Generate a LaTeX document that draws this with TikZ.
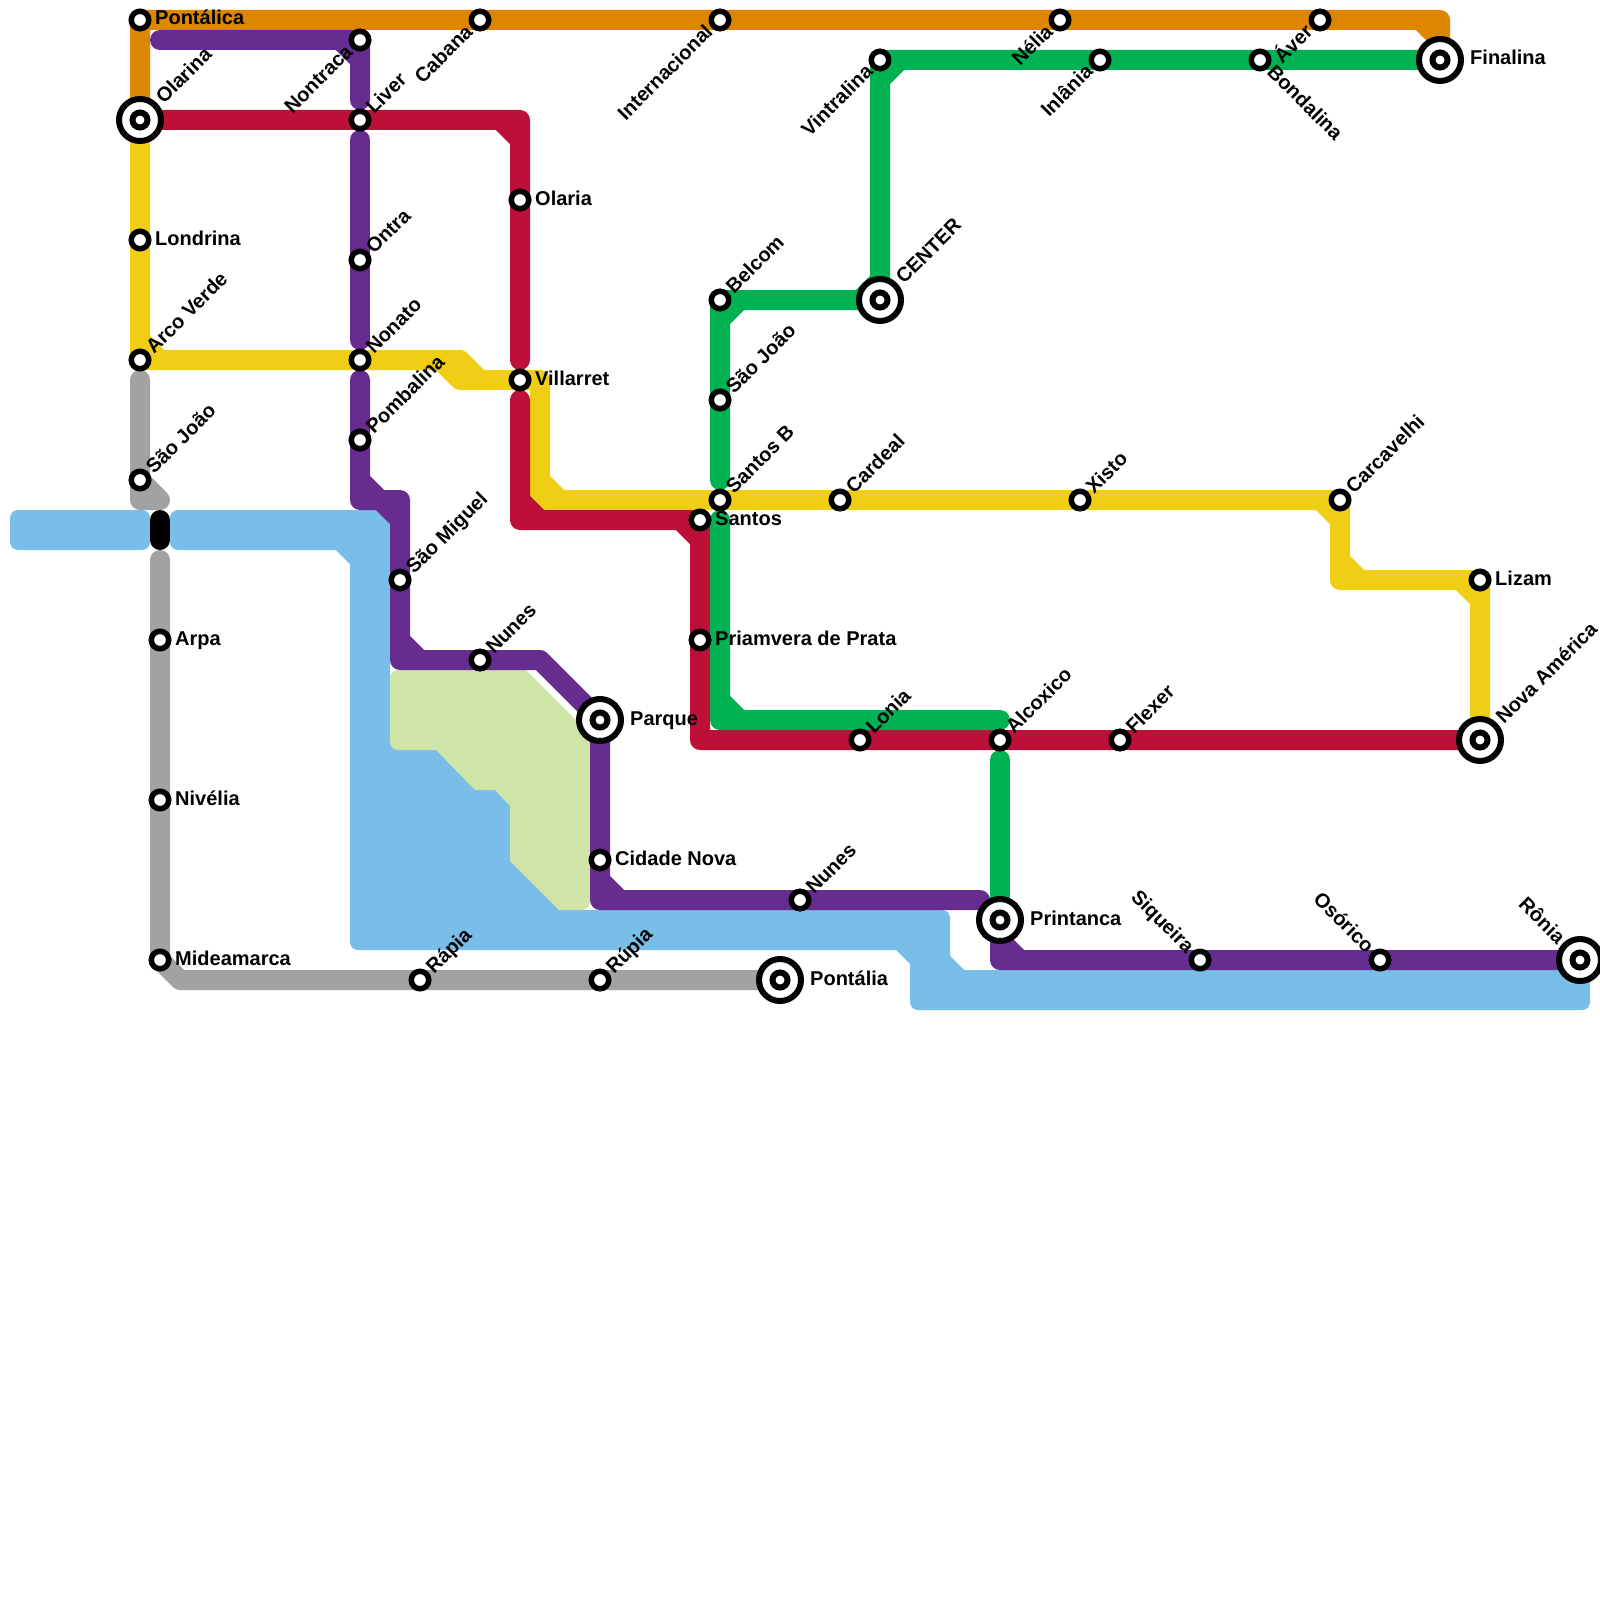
\documentclass[tikz,border=0pt]{standalone}
\usepackage{fontspec}
\setmainfont{Liberation Sans}
\usepackage{xcolor}
\definecolor{mtorange}{HTML}{DF8600}
\definecolor{mtpurple}{HTML}{662C90}
\definecolor{mtred}{HTML}{BD1038}
\definecolor{mtyellow}{HTML}{F0CE15}
\definecolor{mtgreen}{HTML}{00B251}
\definecolor{mtblue}{HTML}{79BDE9}
\definecolor{mtgray}{HTML}{A1A2A3}
\definecolor{mtlime}{HTML}{CFE4A7}
\usetikzlibrary{calc}
\pgfdeclarelayer{lines}
\pgfsetlayers{lines,main}
\tikzset{
  metro/.style={line width=20pt, line cap=round, line join=round},
  stn/.style={circle, draw=black, fill=white, line width=5.5pt, minimum size=17.5pt, inner sep=0pt},
  hub/.style={circle, draw=black, fill=white, line width=6pt, minimum size=42pt, inner sep=0pt},
  hubdot/.style={circle, draw=black, fill=white, line width=6pt, minimum size=15pt, inner sep=0pt},
  tag/.style={inner sep=0pt, font=\bfseries\fontsize{20}{24}\selectfont},
  tagE/.style={tag, anchor=base west, xshift=15pt, yshift=-5pt},
  tagEbig/.style={tag, anchor=base west, xshift=30pt, yshift=-5pt},
  tagNE/.style={tag, anchor=base west, xshift=14pt, yshift=5pt, rotate=45},
  tagNEbig/.style={tag, anchor=base west, xshift=24pt, yshift=15pt, rotate=45},
  tagSW/.style={tag, anchor=base east, xshift=-6pt, yshift=-13pt, rotate=45},
  tagSE/.style={tag, anchor=base west, xshift=6pt, yshift=-13pt, rotate=-45},
  tagNW/.style={tag, anchor=base east, xshift=-14pt, yshift=6pt, rotate=-45},
  tagNWbig/.style={tag, anchor=base east, xshift=-23pt, yshift=15pt, rotate=-45},
}

\begin{document}
\begin{tikzpicture}[x=1pt, y=-1pt]
  \useasboundingbox (0,0) rectangle (1600,1600);

  % --- Stations: top and left ---
  \node[stn] (pontalica) at (140,20) {};
  \node[tagE] (tPontalica) at (pontalica.center) {Pontálica};
  \node[hub] (olarina) at (140,120) {};
  \node[hubdot] (olarinaDot) at (olarina.center) {};
  \node[tagNEbig] (tOlarina) at (olarina.center) {Olarina};
  \node[stn] (londrina) at (140,240) {};
  \node[tagE] (tLondrina) at (londrina.center) {Londrina};
  \node[stn] (arcoverde) at (140,360) {};
  \node[tagNE] (tArcoverde) at (arcoverde.center) {Arco Verde};
  \node[stn] (saojoao) at (140,480) {};
  \node[tagNE] (tSaojoao) at (saojoao.center) {São João};
  \node[stn] (arpa) at (160,640) {};
  \node[tagE] (tArpa) at (arpa.center) {Arpa};
  \node[stn] (nivelia) at (160,800) {};
  \node[tagE] (tNivelia) at (nivelia.center) {Nivélia};
  \node[stn] (mideamarca) at (160,960) {};
  \node[tagE] (tMideamarca) at (mideamarca.center) {Mideamarca};

  % --- Stations: purple column ---
  \node[stn] (nontraca) at (360,40) {};
  \node[tagSW] (tNontraca) at (nontraca.center) {Nontraca};
  \node[stn] (liver) at (360,120) {};
  \node[tagNE] (tLiver) at (liver.center) {Liver};
  \node[stn] (ontra) at (360,260) {};
  \node[tagNE] (tOntra) at (ontra.center) {Ontra};
  \node[stn] (nonato) at (360,360) {};
  \node[tagNE] (tNonato) at (nonato.center) {Nonato};
  \node[stn] (pombalina) at (360,440) {};
  \node[tagNE] (tPombalina) at (pombalina.center) {Pombalina};
  \node[stn] (saomiguel) at (400,580) {};
  \node[tagNE] (tSaomiguel) at (saomiguel.center) {São Miguel};
  \node[stn] (nunesA) at (480,660) {};
  \node[tagNE] (tNunesA) at (nunesA.center) {Nunes};
  \node[hub] (parque) at (600,720) {};
  \node[hubdot] (parqueDot) at (parque.center) {};
  \node[tagEbig] (tParque) at (parque.center) {Parque};
  \node[stn] (cidadenova) at (600,860) {};
  \node[tagE] (tCidadenova) at (cidadenova.center) {Cidade Nova};
  \node[stn] (nunesB) at (800,900) {};
  \node[tagNE] (tNunesB) at (nunesB.center) {Nunes};
  \node[hub] (printanca) at (1000,920) {};
  \node[hubdot] (printancaDot) at (printanca.center) {};
  \node[tagEbig] (tPrintanca) at (printanca.center) {Printanca};
  \node[stn] (siqueira) at (1200,960) {};
  \node[tagNW] (tSiqueira) at (siqueira.center) {Siqueira};
  \node[stn] (osorico) at (1380,960) {};
  \node[tagNW] (tOsorico) at (osorico.center) {Osórico};
  \node[hub] (ronia) at (1580,960) {};
  \node[hubdot] (roniaDot) at (ronia.center) {};
  \node[tagNWbig] (tRonia) at (ronia.center) {Rônia};

  % --- Stations: gray bottom line ---
  \node[stn] (rapia) at (420,980) {};
  \node[tagNE] (tRapia) at (rapia.center) {Rápia};
  \node[stn] (rupia) at (600,980) {};
  \node[tagNE] (tRupia) at (rupia.center) {Rúpia};
  \node[hub] (pontalia) at (780,980) {};
  \node[hubdot] (pontaliaDot) at (pontalia.center) {};
  \node[tagEbig] (tPontalia) at (pontalia.center) {Pontália};

  % --- Stations: orange and green top ---
  \node[stn] (cabana) at (480,20) {};
  \node[tagSW] (tCabana) at (cabana.center) {Cabana};
  \node[stn] (internacional) at (720,20) {};
  \node[tagSW] (tInternacional) at (internacional.center) {Internacional};
  \node[stn] (nelia) at (1060,20) {};
  \node[tagSW] (tNelia) at (nelia.center) {Nélia};
  \node[stn] (aver) at (1320,20) {};
  \node[tagSW] (tAver) at (aver.center) {Áver};
  \node[stn] (vintralina) at (880,60) {};
  \node[tagSW] (tVintralina) at (vintralina.center) {Vintralina};
  \node[stn] (inlania) at (1100,60) {};
  \node[tagSW] (tInlania) at (inlania.center) {Inlânia};
  \node[stn] (bondalina) at (1260,60) {};
  \node[tagSE] (tBondalina) at (bondalina.center) {Bondalina};
  \node[hub] (finalina) at (1440,60) {};
  \node[hubdot] (finalinaDot) at (finalina.center) {};
  \node[tagEbig] (tFinalina) at (finalina.center) {Finalina};
  \node[hub] (center) at (880,300) {};
  \node[hubdot] (centerDot) at (center.center) {};
  \node[tagNEbig] (tCenter) at (center.center) {CENTER};
  \node[stn] (belcom) at (720,300) {};
  \node[tagNE] (tBelcom) at (belcom.center) {Belcom};
  \node[stn] (saojoaoB) at (720,400) {};
  \node[tagNE] (tSaojoaoB) at (saojoaoB.center) {São João};

  % --- Stations: middle ---
  \node[stn] (olaria) at (520,200) {};
  \node[tagE] (tOlaria) at (olaria.center) {Olaria};
  \node[stn] (villarret) at (520,380) {};
  \node[tagE] (tVillarret) at (villarret.center) {Villarret};
  \node[stn] (santosB) at (720,500) {};
  \node[tagNE] (tSantosB) at (santosB.center) {Santos B};
  \node[stn] (santos) at (700,520) {};
  \node[tagE] (tSantos) at (santos.center) {Santos};
  \node[stn] (priamvera) at (700,640) {};
  \node[tagE] (tPriamvera) at (priamvera.center) {Priamvera de Prata};
  \node[stn] (cardeal) at (840,500) {};
  \node[tagNE] (tCardeal) at (cardeal.center) {Cardeal};
  \node[stn] (xisto) at (1080,500) {};
  \node[tagNE] (tXisto) at (xisto.center) {Xisto};
  \node[stn] (carcavelhi) at (1340,500) {};
  \node[tagNE] (tCarcavelhi) at (carcavelhi.center) {Carcavelhi};
  \node[stn] (lizam) at (1480,580) {};
  \node[tagE] (tLizam) at (lizam.center) {Lizam};
  \node[hub] (novaamerica) at (1480,740) {};
  \node[hubdot] (novaamericaDot) at (novaamerica.center) {};
  \node[tagNEbig] (tNovaamerica) at (novaamerica.center) {Nova América};
  \node[stn] (lonia) at (860,740) {};
  \node[tagNE] (tLonia) at (lonia.center) {Lonia};
  \node[stn] (alcoxico) at (1000,740) {};
  \node[tagNE] (tAlcoxico) at (alcoxico.center) {Alcoxico};
  \node[stn] (flexer) at (1120,740) {};
  \node[tagNE] (tFlexer) at (flexer.center) {Flexer};

  % Bends of the lines
  \coordinate (orA) at (1440,20);
  \coordinate (puA) at (360,40);
  \coordinate (puB) at (160,40);
  \coordinate (puC) at (360,100);
  \coordinate (puD) at (360,140);
  \coordinate (puE) at (360,340);
  \coordinate (puF) at (360,380);
  \coordinate (puG) at (360,500);
  \coordinate (puH) at (400,500);
  \coordinate (puI) at (400,660);
  \coordinate (puJ) at (540,660);
  \coordinate (puK) at (600,900);
  \coordinate (puL) at (980,900);
  \coordinate (puM) at (1000,960);
  \coordinate (reA) at (520,120);
  \coordinate (reB) at (520,360);
  \coordinate (reC) at (520,400);
  \coordinate (reD) at (520,520);
  \coordinate (reE) at (700,740);
  \coordinate (yeA) at (460,360);
  \coordinate (yeB) at (480,380);
  \coordinate (yeC) at (540,380);
  \coordinate (yeD) at (540,500);
  \coordinate (yeE) at (1340,580);
  \coordinate (grA) at (720,480);
  \coordinate (grB) at (720,520);
  \coordinate (grC) at (720,720);
  \coordinate (grD) at (1000,720);
  \coordinate (grE) at (1000,760);
  \coordinate (gyA) at (140,380);
  \coordinate (gyB) at (140,500);
  \coordinate (gyC) at (160,500);
  \coordinate (gyD) at (160,560);
  \coordinate (gyE) at (180,980);
  \coordinate (blA) at (160,520);
  \coordinate (blB) at (160,540);

  \begin{pgfonlayer}{lines}
    % Page
    \fill[white] (0,0) rectangle (1600,1600);

    % Water and park
    \fill[mtblue, rounded corners=8pt] (10,510) -- (150,510) -- (150,550) -- (10,550) -- cycle;
    \fill[mtblue, rounded corners=8pt] (300,510) [sharp corners] -- (376,510) -- (390,524) -- (390,700)
      -- (500,700) -- (560,860) -- (570,910) [rounded corners=8pt] -- (950,910) [sharp corners] -- (950,956)
      -- (964,970) [rounded corners=8pt] -- (1590,970) -- (1590,1010) -- (910,1010) [sharp corners] -- (910,964)
      -- (896,950) [rounded corners=8pt] -- (350,950) [sharp corners] -- (350,564) -- (336,550)
      [rounded corners=8pt] -- (170,550) -- (170,510) -- cycle;
    \fill[mtlime, rounded corners=8pt] (450,670) [sharp corners] -- (526,670) -- (590,734)
      [rounded corners=8pt] -- (590,910) [sharp corners] -- (559,910) -- (510,861) -- (510,806) -- (495,790)
      -- (475,790) -- (436,750) [rounded corners=8pt] -- (390,750) -- (390,670) -- cycle;

    % Gray lines and the black stub
    \draw[metro, mtgray] (gyA) -- (gyB) -- (gyC) (saojoao.center) -- (gyC);
    \draw[metro, mtgray] (gyD) -- (mideamarca.center) -- (gyE) -- (pontalia.center);
    \draw[metro, black] (blA) -- (blB);

    % Orange
    \draw[metro, mtorange] (olarina.center) -- (pontalica.center) -- (orA) -- (finalina.center)
      (orA) ++(-20,0) -- ++(20,20);

    % Yellow
    \draw[metro, mtyellow] (olarina.center) -- (arcoverde.center) -- (yeA) -- (yeB) -- (yeC) -- (yeD)
      -- (carcavelhi.center) -- (yeE) -- (lizam.center) -- (novaamerica.center)
      (arcoverde.center) ++(0,-20) -- ++(20,20)
      (yeA) ++(-20,0) -- ++(20,20) -- (yeB)
      (yeD) ++(0,-20) -- ++(20,20)
      (carcavelhi.center) ++(-20,0) -- ++(20,20)
      (yeE) ++(0,-20) -- ++(20,20)
      (lizam.center) ++(-20,0) -- ++(20,20);

    % Purple
    \draw[metro, mtpurple] (puB) -- (puA) -- (puC) (puA) ++(-20,0) -- ++(20,20);
    \draw[metro, mtpurple] (puD) -- (puE);
    \draw[metro, mtpurple] (puF) -- (puG) -- (puH) -- (puI) -- (puJ) -- (parque.center) -- (puK) -- (puL)
      (puG) ++(0,-20) -- ++(20,20)
      (puH) ++(-20,0) -- ++(20,20)
      (puI) ++(0,-20) -- ++(20,20)
      (puK) ++(0,-20) -- ++(20,20);
    \draw[metro, mtpurple] (printanca.center) -- (puM) -- (ronia.center)
      (puM) ++(0,-20) -- ++(20,20);

    % Red
    \draw[metro, mtred] (olarina.center) -- (reA) -- (reB) (reA) ++(-20,0) -- ++(20,20);
    \draw[metro, mtred] (reC) -- (reD) -- (santos.center) -- (reE) -- (novaamerica.center)
      (reD) ++(0,-20) -- ++(20,20)
      (santos.center) ++(-20,0) -- ++(20,20);

    % Green
    \draw[metro, mtgreen] (finalina.center) -- (vintralina.center) -- (center.center) -- (belcom.center) -- (grA)
      (vintralina.center) ++(0,20) -- ++(20,-20)
      (center.center) ++(-20,0) -- ++(20,-20)
      (belcom.center) ++(0,20) -- ++(20,-20);
    \draw[metro, mtgreen] (grB) -- (grC) -- (grD) (grC) ++(0,-20) -- ++(20,20);
    \draw[metro, mtgreen] (grE) -- (printanca.center);
  \end{pgfonlayer}
\end{tikzpicture}
\end{document}
